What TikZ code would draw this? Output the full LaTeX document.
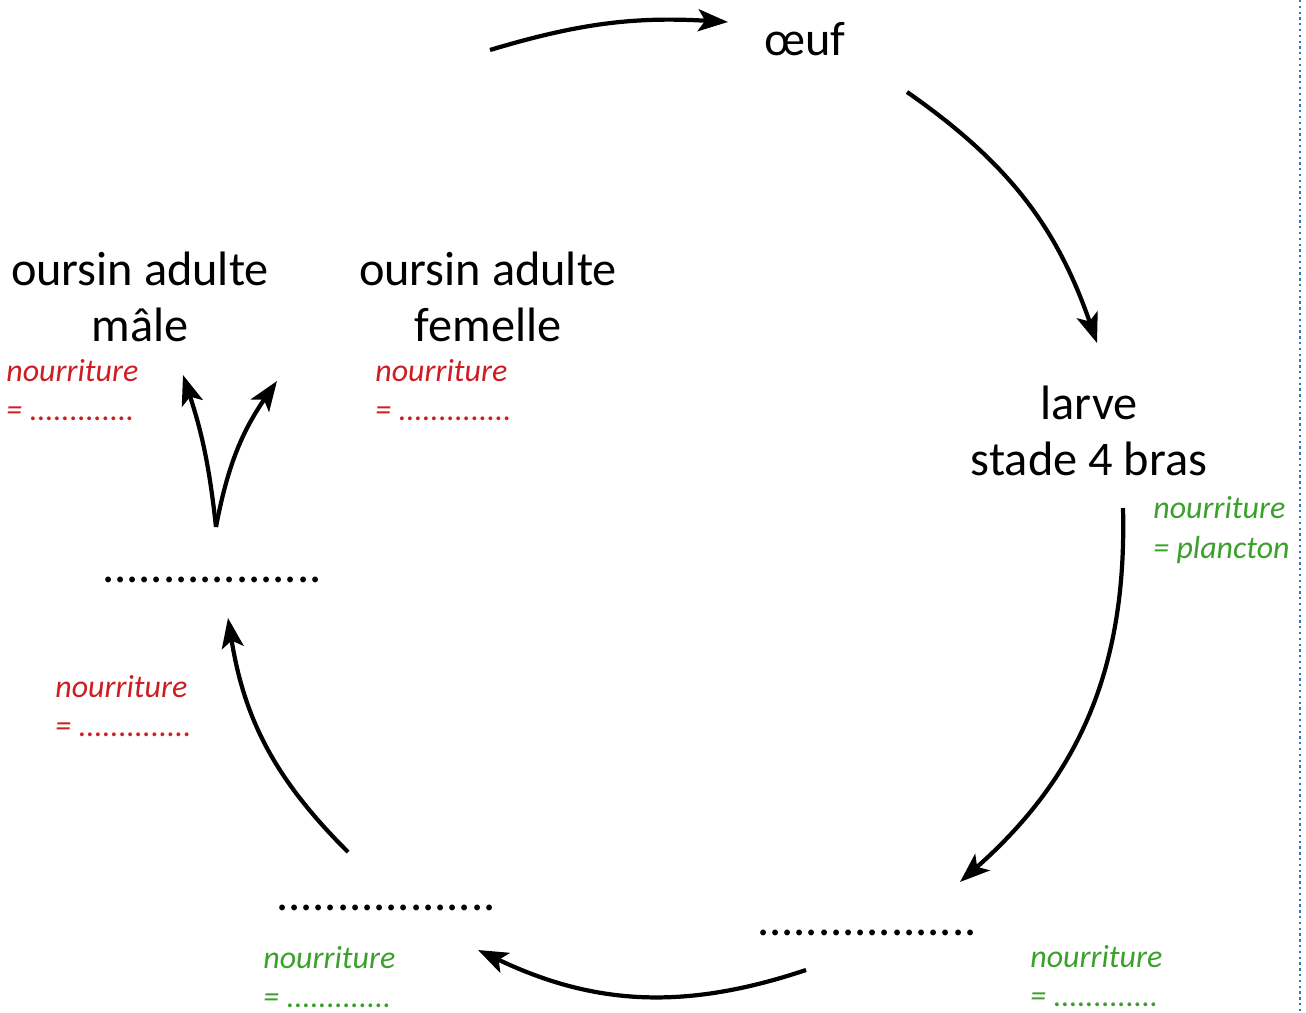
\documentclass[tikz,border=0pt]{standalone}
\usepackage{fontspec}
\setmainfont{Carlito}
\usetikzlibrary{arrows.meta}
\definecolor{foodred}{RGB}{205,30,35}
\definecolor{foodgreen}{RGB}{60,160,45}
\definecolor{sepblue}{RGB}{40,120,200}
\tikzstyle{stage} = [align=center,inner sep=0pt,font=\fontsize{27.5}{32}\selectfont]
\tikzstyle{food} = [align=left,anchor=west,inner sep=0pt,font=\fontsize{18.2}{22.5}\selectfont\itshape]
\tikzstyle{cycle} = [line width=2.4pt,-{Stealth[length=17pt,width=12.5pt,inset=4pt]}]

\begin{document}
\begin{tikzpicture}[x=0.02cm,y=-0.02cm]
	\useasboundingbox (0,0) rectangle (1306,1013);

	\node[stage](oeuf) at (805,39) {œuf};
	\node[stage](larve) at (1089,431) {larve\\stade 4 bras};
	\node[stage](stadeA) at (867,933) {..................};
	\node[stage](stadeB) at (386,908) {..................};
	\node[stage](stadeC) at (212,580) {..................};
	\node[stage](male) at (140,297) {oursin adulte\\mâle};
	\node[stage](femelle) at (488,297) {oursin adulte\\femelle};

	\node[food,text=foodgreen](foodlarve) at (1153,530) {nourriture\\= plancton};
	\node[food,text=foodgreen](foodA) at (1030,976) {nourriture\\= .............};
	\node[food,text=foodgreen](foodB) at (263,977) {nourriture\\= .............};
	\node[food,text=foodred](foodC) at (55,706) {nourriture\\= ..............};
	\node[food,text=foodred](foodmale) at (6,390) {nourriture\\= .............};
	\node[food,text=foodred](foodfemelle) at (375,390) {nourriture\\= ..............};

	% bouts des fleches
	\coordinate (p0) at (490,50);
	\coordinate (p1) at (728,22);
	\coordinate (p2) at (907,92);
	\coordinate (p3) at (1097,343);
	\coordinate (p4) at (1123,508);
	\coordinate (p5) at (960,882);
	\coordinate (p6) at (806,970);
	\coordinate (p7) at (478,950);
	\coordinate (p8) at (348,852);
	\coordinate (p9) at (228,618);
	\coordinate (p10) at (216,527);
	\coordinate (p11) at (183,375);
	\coordinate (p12) at (277,381);

	\draw[cycle] (p0) to[bend left=10] (p1);
	\draw[cycle] (p2) to[bend left=18] (p3);
	\draw[cycle] (p4) to[bend left=25] (p5);
	\draw[cycle] (p6) to[bend left=22] (p7);
	\draw[cycle] (p8) to[bend left=18] (p9);
	\draw[cycle] (p10) to[bend right=6] (p11);
	\draw[cycle] (p10) to[bend left=12] (p12);

	\draw[sepblue,line width=1.3pt,dotted] (1300,0) -- (1300,1013);
\end{tikzpicture}
\end{document}
